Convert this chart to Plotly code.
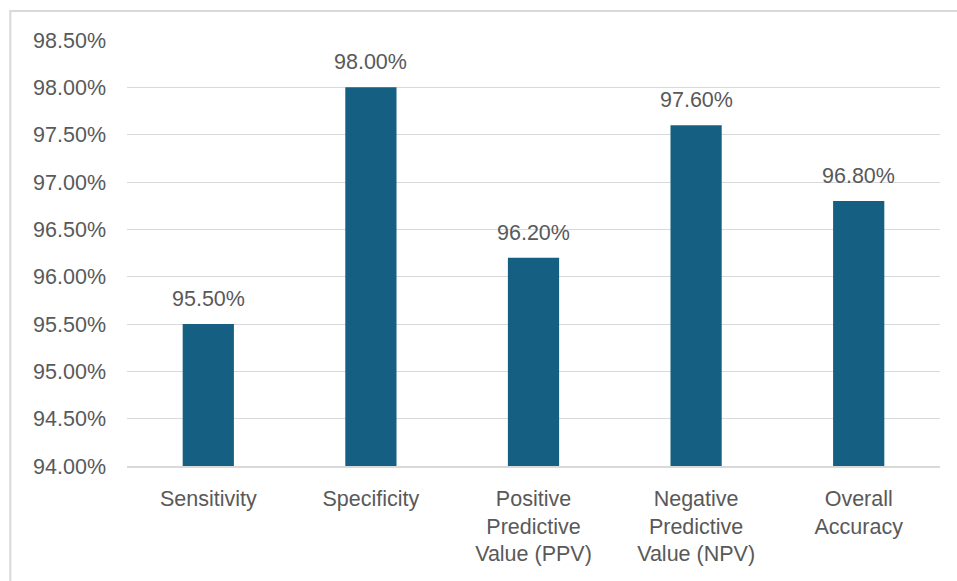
import plotly.graph_objects as go

# Diagnostic performance metrics
categories = [
    "Sensitivity",
    "Specificity",
    "Positive<br>Predictive<br>Value (PPV)",
    "Negative<br>Predictive<br>Value (NPV)",
    "Overall<br>Accuracy",
]
values = [0.955, 0.980, 0.962, 0.976, 0.968]

BAR_COLOR = "#156082"
TEXT_COLOR = "#595959"
GRID_COLOR = "#D9D9D9"
FONT = "Liberation Sans, Arial, sans-serif"
FONT_SIZE = 21.5

fig = go.Figure(
    go.Bar(
        x=categories,
        y=values,
        marker=dict(color=BAR_COLOR, line=dict(width=0)),
        hoverinfo="skip",
    )
)

# Value labels above each bar
for cat, val in zip(categories, values):
    fig.add_annotation(
        x=cat, y=val, text=f"{val:.2%}",
        showarrow=False, yanchor="bottom", yshift=11,
        font=dict(family=FONT, size=FONT_SIZE, color=TEXT_COLOR),
    )

# Light outer frame around the chart area
fig.add_shape(
    type="rect", xref="paper", yref="paper",
    x0=-0.1435, x1=1.03, y0=-0.3, y1=1.068,
    line=dict(color=GRID_COLOR, width=2), fillcolor="rgba(0,0,0,0)",
    layer="below",
)

fig.update_layout(
    width=957, height=581,
    margin=dict(l=127, r=17, t=40, b=115),
    paper_bgcolor="white", plot_bgcolor="white",
    bargap=0.685,
    showlegend=False,
    font=dict(family=FONT, size=FONT_SIZE, color=TEXT_COLOR),
)
fig.update_yaxes(
    range=[0.94, 0.985], dtick=0.005, tickformat=".2%",
    showgrid=True, gridcolor=GRID_COLOR, gridwidth=1,
    zeroline=False, ticks="", ticklabelstandoff=20,
    tickfont=dict(family=FONT, size=FONT_SIZE, color=TEXT_COLOR),
)
fig.update_xaxes(
    showline=True, linecolor=GRID_COLOR, linewidth=1.5,
    ticks="", ticklabelstandoff=12,
    tickfont=dict(family=FONT, size=FONT_SIZE, color=TEXT_COLOR),
)

fig.write_html("out.html")
